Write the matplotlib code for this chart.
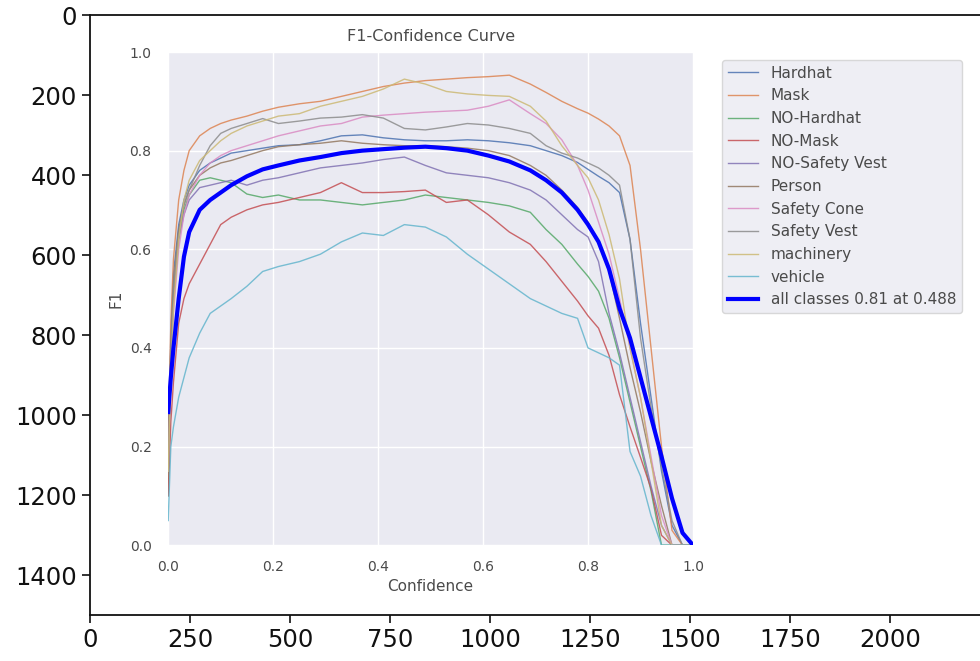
import matplotlib
matplotlib.use("Agg")
import matplotlib.pyplot as plt

# ---------------- data ----------------
conf = [0, 0.005, 0.01, 0.02, 0.03, 0.04, 0.06, 0.08, 0.10, 0.12, 0.15, 0.18, 0.21,
        0.25, 0.29, 0.33, 0.37, 0.41, 0.45, 0.49, 0.53, 0.57, 0.61, 0.65, 0.69, 0.72,
        0.75, 0.78, 0.80, 0.82, 0.84, 0.86, 0.88, 0.90, 0.92, 0.94, 0.96, 0.98, 1.0]

class_names = ["Hardhat", "Mask", "NO-Hardhat", "NO-Mask", "NO-Safety Vest",
               "Person", "Safety Cone", "Safety Vest", "machinery", "vehicle"]

hardhat = [0.20, 0.42, 0.55, 0.65, 0.70, 0.73, 0.76, 0.775, 0.785, 0.795, 0.80, 0.805, 0.81,
           0.812, 0.82, 0.83, 0.832, 0.826, 0.822, 0.82, 0.82, 0.822, 0.82, 0.816, 0.81, 0.80,
           0.79, 0.776, 0.762, 0.748, 0.735, 0.715, 0.62, 0.45, 0.30, 0.15, 0.04, 0.0, 0.0]
mask = [0.20, 0.45, 0.58, 0.70, 0.76, 0.80, 0.83, 0.845, 0.855, 0.862, 0.87, 0.88, 0.888,
        0.895, 0.90, 0.91, 0.92, 0.93, 0.937, 0.942, 0.945, 0.948, 0.95, 0.953, 0.935, 0.918,
        0.90, 0.885, 0.876, 0.864, 0.85, 0.83, 0.77, 0.60, 0.40, 0.20, 0.03, 0.0, 0.0]
no_hardhat = [0.10, 0.35, 0.50, 0.62, 0.68, 0.71, 0.74, 0.745, 0.74, 0.735, 0.712, 0.705, 0.71,
              0.70, 0.70, 0.695, 0.69, 0.695, 0.70, 0.71, 0.705, 0.70, 0.695, 0.688, 0.675, 0.64,
              0.61, 0.57, 0.545, 0.515, 0.46, 0.38, 0.29, 0.20, 0.11, 0.0, 0.0, 0.0, 0.0]
no_mask = [0.10, 0.25, 0.33, 0.45, 0.50, 0.53, 0.57, 0.61, 0.65, 0.665, 0.68, 0.69, 0.695,
           0.705, 0.715, 0.735, 0.715, 0.715, 0.717, 0.72, 0.695, 0.70, 0.67, 0.635, 0.61, 0.575,
           0.535, 0.495, 0.465, 0.44, 0.385, 0.305, 0.24, 0.178, 0.115, 0.02, 0.0, 0.0, 0.0]
no_safety_vest = [0.15, 0.38, 0.50, 0.62, 0.67, 0.70, 0.725, 0.73, 0.735, 0.74, 0.73, 0.74, 0.745,
                  0.755, 0.765, 0.77, 0.775, 0.782, 0.787, 0.77, 0.755, 0.75, 0.745, 0.735, 0.72, 0.70,
                  0.67, 0.64, 0.625, 0.575, 0.47, 0.39, 0.30, 0.21, 0.12, 0.04, 0.0, 0.0, 0.0]
person = [0.18, 0.40, 0.53, 0.64, 0.69, 0.72, 0.75, 0.765, 0.775, 0.78, 0.79, 0.80, 0.808,
          0.812, 0.815, 0.82, 0.815, 0.812, 0.81, 0.81, 0.808, 0.805, 0.80, 0.79, 0.77, 0.75,
          0.72, 0.685, 0.655, 0.615, 0.555, 0.46, 0.36, 0.27, 0.17, 0.08, 0.0, 0.0, 0.0]
safety_cone = [0.15, 0.35, 0.47, 0.60, 0.67, 0.71, 0.75, 0.775, 0.79, 0.80, 0.81, 0.82, 0.83,
               0.84, 0.85, 0.855, 0.868, 0.872, 0.875, 0.878, 0.88, 0.882, 0.89, 0.903, 0.875, 0.855,
               0.822, 0.77, 0.72, 0.655, 0.59, 0.50, 0.40, 0.30, 0.18, 0.06, 0.0, 0.0, 0.0]
safety_vest = [0.15, 0.40, 0.52, 0.63, 0.69, 0.72, 0.77, 0.81, 0.835, 0.845, 0.855, 0.865, 0.855,
               0.86, 0.866, 0.868, 0.873, 0.866, 0.845, 0.842, 0.848, 0.855, 0.852, 0.845, 0.835, 0.81,
               0.795, 0.785, 0.775, 0.765, 0.75, 0.73, 0.62, 0.42, 0.28, 0.16, 0.05, 0.0, 0.0]
machinery = [0.15, 0.35, 0.48, 0.62, 0.70, 0.74, 0.78, 0.80, 0.82, 0.835, 0.85, 0.86, 0.87,
             0.875, 0.89, 0.90, 0.91, 0.925, 0.945, 0.935, 0.92, 0.915, 0.912, 0.91, 0.89, 0.86,
             0.81, 0.77, 0.745, 0.70, 0.63, 0.54, 0.40, 0.30, 0.17, 0.04, 0.0, 0.0, 0.0]
vehicle = [0.05, 0.20, 0.24, 0.30, 0.34, 0.38, 0.43, 0.47, 0.485, 0.50, 0.525, 0.555, 0.565,
           0.575, 0.59, 0.615, 0.633, 0.628, 0.65, 0.645, 0.625, 0.59, 0.56, 0.53, 0.50, 0.485,
           0.47, 0.46, 0.40, 0.39, 0.38, 0.365, 0.19, 0.14, 0.06, 0.0, 0.0, 0.0, 0.0]
all_classes = [0.27, 0.34, 0.40, 0.50, 0.585, 0.635, 0.68, 0.70, 0.715, 0.73, 0.748, 0.762, 0.77,
               0.78, 0.787, 0.795, 0.80, 0.803, 0.806, 0.808, 0.805, 0.80, 0.79, 0.778, 0.76, 0.74,
               0.715, 0.68, 0.65, 0.615, 0.56, 0.48, 0.42, 0.34, 0.26, 0.18, 0.095, 0.025, 0.0]
all_label = "all classes 0.81 at 0.488"

class_values = [hardhat, mask, no_hardhat, no_mask, no_safety_vest,
                person, safety_cone, safety_vest, machinery, vehicle]

outer_xticks = [0, 250, 500, 750, 1000, 1250, 1500, 1750, 2000]
outer_yticks = [0, 200, 400, 600, 800, 1000, 1200, 1400]
inner_ticks = [0.0, 0.2, 0.4, 0.6, 0.8, 1.0]

# ---------------- styling ----------------
palette = ["#4C72B0", "#DD8452", "#55A868", "#C44E52", "#8172B3",
           "#937860", "#DA8BC3", "#8C8C8C", "#CCB974", "#64B5CD"]
img_w, img_h = 2250, 1500
inner_box = (195, 1325, 1507, 92)   # inner plot area in image pixel coords (x0, y0, x1, y1)
text_col = "#4a4a4a"

fig = plt.figure(figsize=(9.8, 6.61), dpi=100)
fig.patch.set_facecolor("white")

# outer (image-pixel) axes
ax = fig.add_axes([90 / 980, 46 / 661, 900 / 980, 600 / 661])
ax.set_xlim(-0.5, img_w - 0.5)
ax.set_ylim(img_h - 0.5, -0.5)
ax.set_facecolor("white")
ax.set_xticks(outer_xticks)
ax.set_yticks(outer_yticks)
ax.tick_params(labelsize=17.5, length=6, width=1.2, colors="#111111")
for s in ax.spines.values():
    s.set_linewidth(1.3)
    s.set_color("#111111")

# inner axes positioned through the outer axes' data transform
to_fig = ax.transData + fig.transFigure.inverted()
(fx0, fy0) = to_fig.transform((inner_box[0], inner_box[1]))
(fx1, fy1) = to_fig.transform((inner_box[2], inner_box[3]))
iax = fig.add_axes([fx0, fy0, fx1 - fx0, fy1 - fy0])
iax.set_facecolor("#EAEAF2")
for s in iax.spines.values():
    s.set_visible(False)
iax.grid(True, color="white", linewidth=1.0)
iax.set_axisbelow(True)
iax.set_xlim(0, 1)
iax.set_ylim(0, 1)
iax.set_xticks(inner_ticks)
iax.set_yticks(inner_ticks)
iax.tick_params(axis="x", length=0, labelsize=10, colors=text_col, pad=11)
iax.tick_params(axis="y", length=0, labelsize=10, colors=text_col, pad=12)

for name, vals, col in zip(class_names, class_values, palette):
    iax.plot(conf, vals, linewidth=1, color=col, alpha=0.85, label=name)
iax.plot(conf, all_classes, linewidth=3, color="blue", label=all_label)

iax.set_xlabel("Confidence", fontsize=11, color=text_col, labelpad=3)
iax.set_ylabel("F1", fontsize=11, color=text_col, labelpad=4)
iax.set_title("F1-Confidence Curve", fontsize=11.5, color=text_col, pad=8)
leg = iax.legend(bbox_to_anchor=(1.04, 1), loc="upper left", fontsize=11,
                 frameon=True, facecolor="#EAEAF2", edgecolor="#d0d0d0", framealpha=0.8,
                 labelcolor=text_col)

fig.savefig("out.png", dpi=100, facecolor="white")
